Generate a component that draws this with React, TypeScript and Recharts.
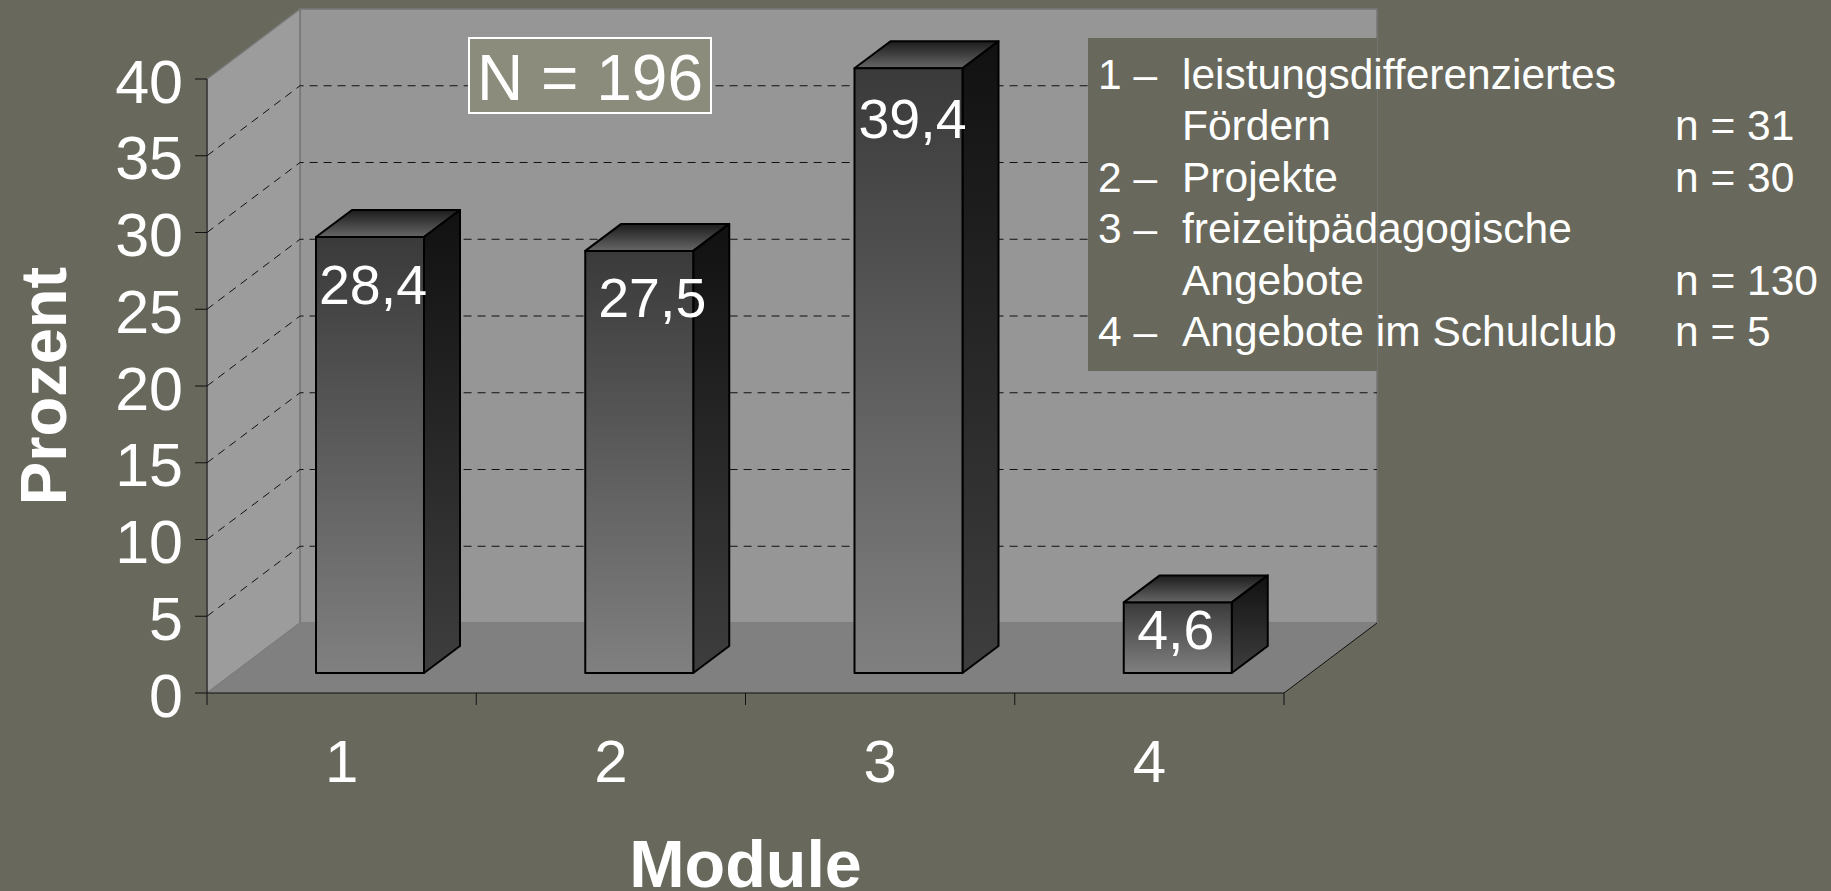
import React from "react";
import {
  BarChart,
  Bar,
  XAxis,
  YAxis,
  ReferenceArea,
  ReferenceLine,
  LabelList,
  Customized,
} from "recharts";

const modules = ["1", "2", "3", "4"];
const percent = [28.4, 27.5, 39.4, 4.6];
const yTicks = [0, 5, 10, 15, 20, 25, 30, 35, 40];
const gridTicks = [5, 10, 15, 20, 25, 30, 35];
const labelShift = [
  { dx: 3, dy: 67 },
  { dx: 13, dy: 66 },
  { dx: 4, dy: 70 },
  { dx: -2, dy: 47 },
];

const legendNums = ["1 –", "", "2 –", "3 –", "", "4 –"];
const legendTexts = [
  "leistungsdifferenziertes",
  "Fördern",
  "Projekte",
  "freizeitpädagogische",
  "Angebote",
  "Angebote im Schulclub",
];
const legendCounts = ["", "n = 31", "n = 30", "", "n = 130", "n = 5"];

const data = modules.map((name, i) => ({ name, value: percent[i] }));

const FONT = "'Liberation Sans', Arial, sans-serif";
const BG = "#68695c";
const BAND = 1077 / modules.length;
// 3D offsets of the fake perspective
const WALL_DX = 93;
const WALL_DY = 70;
const BAR_DX = 28;
const BAR_DY = 20;
const SIDE_DX = 36;
const SIDE_DY = 27;

function Walls(props: any) {
  const { x, y, width, height } = props;
  const r = x + width;
  const b = y + height;
  return (
    <g>
      <polygon
        points={`${x + WALL_DX},${y - WALL_DY} ${r + WALL_DX},${y - WALL_DY} ${r + WALL_DX},${b - WALL_DY} ${x + WALL_DX},${b - WALL_DY}`}
        fill="#969696"
        stroke="#777"
        strokeWidth={1.5}
      />
      <polygon
        points={`${x},${y} ${x + WALL_DX},${y - WALL_DY} ${x + WALL_DX},${b - WALL_DY} ${x},${b}`}
        fill="#9c9c9c"
        stroke="#777"
        strokeWidth={1.5}
      />
      <polygon
        points={`${x},${b} ${x + WALL_DX},${b - WALL_DY} ${r + WALL_DX},${b - WALL_DY} ${r},${b}`}
        fill="#808080"
      />
      <line x1={r} y1={b} x2={r + WALL_DX} y2={b - WALL_DY} stroke="#111" strokeWidth={1} />
    </g>
  );
}

function GridLine(props: any) {
  const { x1, y1, x2 } = props;
  return (
    <path
      d={`M${x1},${y1} L${x1 + WALL_DX},${y1 - WALL_DY} L${x2 + WALL_DX},${y1 - WALL_DY}`}
      fill="none"
      stroke="#111"
      strokeWidth={1}
      strokeDasharray="8 6"
    />
  );
}

function Box3D(props: any) {
  const { x, y, width, height } = props;
  const l = x + BAR_DX;
  const t = y - BAR_DY;
  const r = l + width;
  const b = t + height;
  return (
    <g stroke="#000" strokeWidth={2} strokeLinejoin="round">
      <polygon
        points={`${l},${t} ${l + SIDE_DX},${t - SIDE_DY} ${r + SIDE_DX},${t - SIDE_DY} ${r},${t}`}
        fill="url(#topFace)"
      />
      <polygon
        points={`${r},${t} ${r + SIDE_DX},${t - SIDE_DY} ${r + SIDE_DX},${b - SIDE_DY} ${r},${b}`}
        fill="url(#sideFace)"
      />
      <rect x={l} y={t} width={width} height={height} fill="url(#frontFace)" />
    </g>
  );
}

function BarValue(props: any) {
  const { x, y, width, value, index } = props;
  const shift = labelShift[index];
  return (
    <text
      x={x + BAR_DX + width / 2 + shift.dx}
      y={y - BAR_DY + shift.dy}
      textAnchor="middle"
      fill="#fff"
      fontFamily={FONT}
      fontSize={55.5}
    >
      {String(value).replace(".", ",")}
    </text>
  );
}

// the axis marks the edges of each category, not the middle
function XTick(props: any) {
  const { x, y, payload, index } = props;
  const top = y - 36;
  return (
    <g>
      <line x1={x - BAND / 2} y1={top} x2={x - BAND / 2} y2={top + 12} stroke="#111" />
      {index === modules.length - 1 && (
        <line x1={x + BAND / 2} y1={top} x2={x + BAND / 2} y2={top + 12} stroke="#111" />
      )}
      <text x={x} y={y + 53} textAnchor="middle" fill="#fff" fontSize={60} fontFamily={FONT}>
        {payload.value}
      </text>
    </g>
  );
}

function Overlay() {
  return (
    <g fontFamily={FONT} fill="#fff">
      <rect x={469} y={38} width={242} height={75} fill="#8c8c7c" stroke="#fff" strokeWidth={2} />
      <text x={590} y={100} textAnchor="middle" fontSize={64}>
        N = 196
      </text>
      <rect x={1088} y={38} width={289} height={333} fill={BG} />
      {legendTexts.map((t, i) => (
        <g key={i} fontSize={42.5}>
          <text x={1098} y={89 + i * 51.4}>{legendNums[i]}</text>
          <text x={1182} y={89 + i * 51.4}>{t}</text>
          <text x={1675} y={89 + i * 51.4}>{legendCounts[i]}</text>
        </g>
      ))}
    </g>
  );
}

export default function App() {
  const back: any = { zIndex: -200 };
  const lines: any = { zIndex: -100 };
  return (
    <div style={{ position: "absolute", left: 0, top: 0, width: 1831, height: 891, background: BG, overflow: "hidden" }}>
      <BarChart
        width={1831}
        height={891}
        data={data}
        margin={{ top: 79, right: 547, bottom: 0, left: 0 }}
        barSize={108}
        style={{ overflow: "visible" }}
      >
        <defs>
          <linearGradient id="frontFace" x1="0" y1="0" x2="0" y2="1">
            <stop offset="0" stopColor="#3a3a3a" />
            <stop offset="1" stopColor="#808080" />
          </linearGradient>
          <linearGradient id="sideFace" x1="0" y1="0" x2="0" y2="1">
            <stop offset="0" stopColor="#111" />
            <stop offset="1" stopColor="#3e3e3e" />
          </linearGradient>
          <linearGradient id="topFace" x1="0" y1="0" x2="0" y2="1">
            <stop offset="0" stopColor="#1c1c1c" />
            <stop offset="1" stopColor="#666" />
          </linearGradient>
        </defs>
        <ReferenceArea y1={0} y2={40} shape={Walls} ifOverflow="visible" {...back} />
        {gridTicks.map((t) => (
          <ReferenceLine key={t} y={t} shape={GridLine} ifOverflow="visible" {...lines} />
        ))}
        <XAxis
          dataKey="name"
          height={198}
          tickSize={12}
          tickLine={false}
          axisLine={{ stroke: "#111" }}
          tick={XTick}
          tickMargin={24}
          interval={0}
          label={{
            value: "Module",
            position: "insideBottom",
            offset: 4,
            fill: "#fff",
            fontSize: 66.5,
            fontWeight: "bold",
            fontFamily: FONT,
          }}
        />
        <YAxis
          width={207}
          domain={[0, 40]}
          ticks={yTicks}
          interval={0}
          tickSize={12}
          tickLine={{ stroke: "#111" }}
          axisLine={{ stroke: "#111" }}
          tick={{ fill: "#fff", fontSize: 61, fontFamily: FONT, dy: 2 }}
          tickMargin={12}
          label={{
            value: "Prozent",
            angle: -90,
            position: "insideLeft",
            textAnchor: "middle",
            offset: 43,
            fill: "#fff",
            fontSize: 65,
            fontWeight: "bold",
            fontFamily: FONT,
          }}
        />
        <Bar dataKey="value" shape={Box3D} isAnimationActive={false}>
          <LabelList dataKey="value" content={BarValue} />
        </Bar>
        <Customized component={Overlay} />
      </BarChart>
    </div>
  );
}
